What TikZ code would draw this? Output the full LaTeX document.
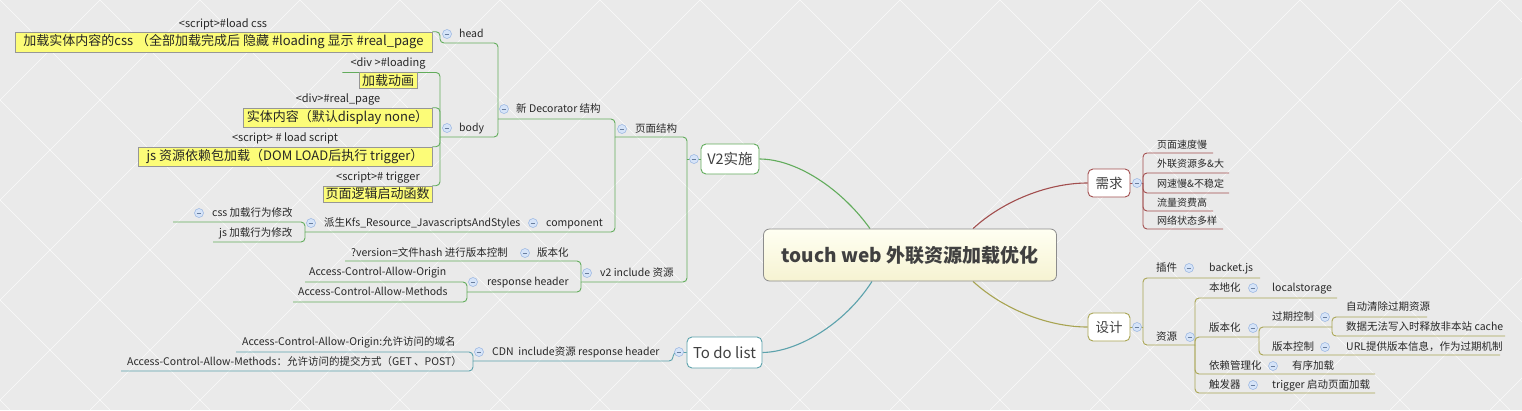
\documentclass[tikz,border=0pt]{standalone}
\usepackage{fontspec}
\setmainfont{Noto Sans CJK SC}
\usetikzlibrary{calc}
\pgfdeclarelayer{bgl}
\pgfdeclarelayer{lines}
\pgfsetlayers{bgl,lines,main}
\definecolor{cG}{RGB}{98,172,92}
\definecolor{cT}{RGB}{92,162,172}
\definecolor{cR}{RGB}{162,78,78}
\definecolor{cO}{RGB}{168,164,82}
\definecolor{ybox}{RGB}{252,252,120}
\definecolor{ybord}{RGB}{150,150,150}
\definecolor{txt}{RGB}{40,40,40}
\definecolor{bgc}{RGB}{234,234,234}
\definecolor{tgf}{RGB}{214,228,248}
\definecolor{tgd}{RGB}{150,180,225}
\definecolor{rtop}{RGB}{255,255,242}
\definecolor{rbot}{RGB}{246,243,210}
\tikzset{
  seg/.style={inner sep=0pt, outer sep=0pt, minimum height=6pt, anchor=south west},
  itm/.style={font=\fontsize{10.5}{12}\selectfont, text=txt, inner sep=0pt, anchor=west, text height=8pt, text depth=2pt},
  itmr/.style={itm, font=\fontsize{10}{12}\selectfont},
  lbl/.style={font=\fontsize{11}{13}\selectfont, text=txt, inner sep=0pt, text height=8pt, text depth=2pt},
  ybx/.style={draw=ybord, fill=ybox, line width=0.6pt, inner sep=0pt, font=\fontsize{13}{15}\selectfont, text=black!85},
  tog/.style={circle, inner sep=0pt, minimum size=9pt, draw=tgd, fill=tgf, line width=0.5pt,
    path picture={\draw[tgd!70!black, line width=0.6pt] ([xshift=-2.3pt]path picture bounding box.center) -- ([xshift=2.3pt]path picture bounding box.center);}},
  mbox/.style={draw=#1, fill=white, rounded corners=5pt, line width=0.9pt, inner sep=0pt, text=black!75},
  lnG/.style={draw=cG, line width=0.9pt, rounded corners=4pt},
  lnT/.style={draw=cT, line width=0.9pt, rounded corners=4pt},
  lnR/.style={draw=cR, line width=0.9pt, rounded corners=4pt},
  lnO/.style={draw=cO, line width=0.9pt, rounded corners=4pt},
  crv/.style={draw=#1, line width=1.1pt}
}
\newcommand\sg[4]{\node[seg, minimum width={(#3)-(#2)}] (#1) at (#2,#4) {};}
\begin{document}
\begin{tikzpicture}[x=1pt,y=-1pt]
\useasboundingbox (0,0) rectangle (1522,410);
\begin{pgfonlayer}{bgl}
\fill[bgc] (0,0) rectangle (1522,410);
\begin{scope}
\clip (0,0) rectangle (1522,410);
\foreach \n in {0,...,20} \draw[white, line width=0.6pt, opacity=.8] (\n*100,0) -- (\n*100-410,410);
\foreach \n in {-5,...,16} \draw[white, line width=0.6pt, opacity=.8] (\n*100,0) -- (\n*100+410,410);
\end{scope}
\end{pgfonlayer}

% ---------- main nodes ----------
\node[draw=black!45, rounded corners=6pt, top color=rtop, bottom color=rbot, line width=0.8pt,
  minimum width=293pt, minimum height=52pt, inner sep=0pt,
  font=\fontsize{19}{21}\selectfont\bfseries, text=black!75] (root) at (910,255) {touch web 外联资源加载优化};
\node[mbox=cG, minimum width=58pt, minimum height=30pt, font=\fontsize{14.5}{16}\selectfont] (v2) at (730,159) {V2实施};
\node[mbox=cT, minimum width=75pt, minimum height=31pt, font=\fontsize{15}{17}\selectfont] (todo) at (724.5,352.5) {To do list};
\node[mbox=cR, minimum width=42pt, minimum height=28pt, font=\fontsize{13.5}{15}\selectfont] (xq) at (1109,183) {需求};
\node[mbox=cO, minimum width=42pt, minimum height=28pt, font=\fontsize{13.5}{15}\selectfont] (sj) at (1109,327) {设计};

% ---------- segments (underlines) ----------
\sg{ymjg}{615}{687}{137}
\sg{v2inc}{581}{687}{282}
\sg{xdec}{498}{615}{119}
\sg{comp}{527}{615}{232}
\sg{deriv}{305}{527}{232}
\sg{css}{173}{305}{222}
\sg{js}{213}{305}{242}
\sg{head}{440}{498}{43}
\sg{body}{440}{498}{137}
\sg{bbh}{519}{581}{261}
\sg{ver}{345}{519}{261}
\sg{resp}{467}{581}{292}
\sg{acao}{305}{467}{282}
\sg{acam}{293}{467}{302}
\sg{cdn}{473}{673}{361}
\sg{cdnA}{236}{473}{352}
\sg{cdnB}{121}{473}{371}
\sg{rA}{1143}{1213}{153}
\sg{rB}{1143}{1229}{173}
\sg{rC}{1143}{1229}{193}
\sg{rD}{1143}{1213}{211}
\sg{rE}{1143}{1223}{229}
\sg{cj}{1143}{1195}{278}
\sg{bj}{1195}{1260}{278}
\sg{zy}{1143}{1195}{345}
\sg{bdh}{1195}{1259}{298}
\sg{ls}{1259}{1337}{298}
\sg{bbhb}{1195}{1259}{337}
\sg{gqkz}{1259}{1332}{327}
\sg{zdqc}{1332}{1427}{317}
\sg{sjwf}{1332}{1505}{336}
\sg{bbkz}{1259}{1332}{355}
\sg{url}{1332}{1500}{355}
\sg{ylgl}{1195}{1280}{374}
\sg{yxjz}{1280}{1375}{374}
\sg{cfq}{1195}{1259}{393}
\sg{trig}{1259}{1375}{393}

% ---------- yellow boxes and their labels ----------
\node[ybx, minimum width=417pt, minimum height=20pt] (yb1) at (223.5,42) {加载实体内容的css （全部加载完成后 隐藏 \#loading 显示 \#real\_page};
\node[ybx, minimum width=58pt, minimum height=15.5pt] (yb2) at (388,80.5) {加载动画};
\node[ybx, minimum width=189pt, minimum height=19pt] (yb3) at (337.5,117.5) {实体内容（默认display none）};
\node[ybx, minimum width=294pt, minimum height=19pt] (yb4) at (285,156.5) {js 资源依赖包加载（DOM LOAD后执行 trigger）};
\node[ybx, minimum width=109pt, minimum height=16pt] (yb5) at (377.5,194) {页面逻辑启动函数};
\node[lbl] (lb1) at (223,24) {<script>\#load css};
\node[lbl] (lb2) at (388,63) {<div >\#loading};
\node[lbl] (lb3) at (338,99) {<div>\#real\_page};
\node[lbl] (lb4) at (285,138) {<script> \# load script};
\node[lbl] (lb5) at (378,177) {<script>\# trigger};

% ---------- texts ----------
\node[itm] (t-ymjg) at (635,129) {页面结构};
\node[itm] (t-xdec) at (516,109) {新 Decorator 结构};
\node[itm] (t-head) at (459,34) {head};
\node[itm] (t-body) at (459,128) {body};
\node[itm] (t-comp) at (546,223) {component};
\node[itm] (t-deriv) at (324,223) {派生Kfs\_Resource\_JavascriptsAndStyles};
\node[itm] (t-css) at (212,213) {css 加载行为修改};
\node[itm] (t-js) at (219,233) {js 加载行为修改};
\node[itm] (t-v2inc) at (600,273) {v2 include 资源};
\node[itm] (t-bbh) at (537,253) {版本化};
\node[itm] (t-ver) at (351,253) {?version=文件hash 进行版本控制};
\node[itm] (t-resp) at (487,282) {response header};
\node[itm] (t-acao) at (309,272) {Access-Control-Allow-Origin};
\node[itm] (t-acam) at (298,292) {Access-Control-Allow-Methods};
\node[itm] (t-cdn) at (492,352) {CDN\ \ include资源 response header};
\node[itm] (t-cdnA) at (242,342) {Access-Control-Allow-Origin:允许访问的域名};
\node[itm] (t-cdnB) at (127,362) {Access-Control-Allow-Methods：允许访问的提交方式（GET 、POST）};
\node[itmr] (t-rA) at (1157,145) {页面速度慢};
\node[itmr] (t-rB) at (1157,164) {外联资源多\&大};
\node[itmr] (t-rC) at (1157,184) {网速慢\&不稳定};
\node[itmr] (t-rD) at (1157,203) {流量资费高};
\node[itmr] (t-rE) at (1157,221) {网络状态多样};
\node[itm] (t-cj) at (1156,268) {插件};
\node[itm] (t-bj) at (1209,268) {backet.js};
\node[itm] (t-zy) at (1156,337) {资源};
\node[itm] (t-bdh) at (1209,288) {本地化};
\node[itm] (t-ls) at (1272,288) {localstorage};
\node[itm] (t-bbhb) at (1209,328) {版本化};
\node[itm] (t-gqkz) at (1272,317) {过期控制};
\node[itm] (t-zdqc) at (1346,307) {自动清除过期资源};
\node[itm] (t-sjwf) at (1346,327) {数据无法写入时释放非本站 cache};
\node[itm] (t-bbkz) at (1272,347) {版本控制};
\node[itm] (t-url) at (1346,347) {URL提供版本信息，作为过期机制};
\node[itm] (t-ylgl) at (1209,366) {依赖管理化};
\node[itm] (t-yxjz) at (1292,366) {有序加载};
\node[itm] (t-cfq) at (1209,385) {触发器};
\node[itm] (t-trig) at (1272,385) {trigger 启动页面加载};

% ---------- connectors ----------
\begin{pgfonlayer}{lines}
\draw[crv=cG] (v2.east) .. controls (795,159) and (840,187) .. ([xshift=-40pt]root.north);
\draw[crv=cT] (todo.east) .. controls (797,352) and (844,325) .. ([xshift=-38pt]root.south);
\draw[crv=cR] (xq.west) .. controls (1048,183) and (1003,201) .. ([xshift=63pt]root.north);
\draw[crv=cO] ([xshift=63pt]root.south) .. controls (1003,309) and (1048,327) .. (sj.west);
% green tree
\draw[lnG] (ymjg.south west) -- (ymjg.south east) -- (ymjg.south east |- v2.west);
\draw[lnG] (v2inc.south west) -- (v2inc.south east) -- (v2inc.south east |- v2.west);
\draw[lnG] (v2inc.south east |- v2.west) -- (v2.west);
\draw[lnG] (xdec.south west) -- (xdec.south east) -- (xdec.south east |- ymjg.south west);
\draw[lnG] (deriv.south west) -- (comp.south east) -- (comp.south east |- ymjg.south west);
\draw[lnG] (css.south west) -- (css.south east) -- (css.south east |- deriv.south west);
\draw[lnG] (js.south west) -- (js.south east) -- (js.south east |- deriv.south west);
\draw[lnG] (yb1.north east) -- (yb1.north east -| head.south west) -- (head.south west) -- (head.south east) -- (head.south east |- xdec.south west);
\draw[lnG] (body.south west) -- (body.south east) -- (body.south east |- xdec.south west);
\draw[lnG] ([xshift=-8pt]lb2.west |- yb2.north) -- (yb2.north -| body.south west) -- (body.south west);
\draw[lnG] (yb3.north east) -- (yb3.north east -| body.south west) -- (body.south west);
\draw[lnG] (yb4.north east) -- (yb4.north east -| body.south west) -- (body.south west);
\draw[lnG] (yb5.north east) -- (yb5.north east -| body.south west) -- (body.south west);
\draw[lnG] (ver.south west) -- (bbh.south east) -- (bbh.south east |- v2inc.south west);
\draw[lnG] (resp.south west) -- (resp.south east) -- (resp.south east |- v2inc.south west);
\draw[lnG] (acao.south west) -- (acao.south east) -- (acao.south east |- resp.south west);
\draw[lnG] (acam.south west) -- (acam.south east) -- (acam.south east |- resp.south west);
% teal tree
\draw[lnT] (cdn.south west) -- (cdn.south east) -- (cdn.south east |- todo.west) -- (todo.west);
\draw[lnT] (cdnA.south west) -- (cdnA.south east) -- (cdnA.south east |- cdn.south west);
\draw[lnT] (cdnB.south west) -- (cdnB.south east) -- (cdnB.south east |- cdn.south west);
% red tree
\foreach \nm in {rA,rB,rC,rD,rE}
  \draw[lnR] (\nm.south east) -- (\nm.south west) -- (\nm.south west |- xq.east);
\draw[lnR] (rA.south west |- xq.east) -- (xq.east);
% olive tree
\draw[lnO] (bj.south east) -- (cj.south west) -- (cj.south west |- sj.east);
\draw[lnO] (zy.south east) -- (zy.south west) -- (zy.south west |- sj.east);
\draw[lnO] (zy.south west |- sj.east) -- (sj.east);
\draw[lnO] (ls.south east) -- (bdh.south west) -- (bdh.south west |- zy.south east);
\draw[lnO] (bbhb.south east) -- (bbhb.south west) -- (bbhb.south west |- zy.south east);
\draw[lnO] (yxjz.south east) -- (ylgl.south west) -- (ylgl.south west |- zy.south east);
\draw[lnO] (trig.south east) -- (cfq.south west) -- (cfq.south west |- zy.south east);
\draw[lnO] (gqkz.south east) -- (gqkz.south west) -- (gqkz.south west |- bbhb.south east);
\draw[lnO] (url.south east) -- (bbkz.south west) -- (bbkz.south west |- bbhb.south east);
\draw[lnO] (zdqc.south east) -- (zdqc.south west) -- (zdqc.south west |- gqkz.south east);
\draw[lnO] (sjwf.south east) -- (sjwf.south west) -- (sjwf.south west |- gqkz.south east);
\end{pgfonlayer}

% ---------- toggles ----------
\node[tog] (g-v2) at (694,159) {};
\node[tog] (g-todo) at (679,352) {};
\node[tog] (g-ymjg) at (622,129) {};
\node[tog] (g-xdec) at (504,109) {};
\node[tog] (g-head) at (447,34) {};
\node[tog] (g-body) at (447,128) {};
\node[tog] (g-comp) at (533,223) {};
\node[tog] (g-deriv) at (311,223) {};
\node[tog] (g-css) at (199,213) {};
\node[tog] (g-v2inc) at (587,273) {};
\node[tog] (g-bbh) at (525,253) {};
\node[tog] (g-resp) at (473,282) {};
\node[tog] (g-cdn) at (479,352) {};
\node[tog] (g-xq) at (1137,183) {};
\node[tog] (g-sj) at (1137,327) {};
\node[tog] (g-cj) at (1189,268) {};
\node[tog] (g-zy) at (1190,337) {};
\node[tog] (g-bdh) at (1253,288) {};
\node[tog] (g-bbhb) at (1253,328) {};
\node[tog] (g-gqkz) at (1325,317) {};
\node[tog] (g-bbkz) at (1325,347) {};
\node[tog] (g-ylgl) at (1273,366) {};
\node[tog] (g-cfq) at (1253,385) {};
\end{tikzpicture}
\end{document}
